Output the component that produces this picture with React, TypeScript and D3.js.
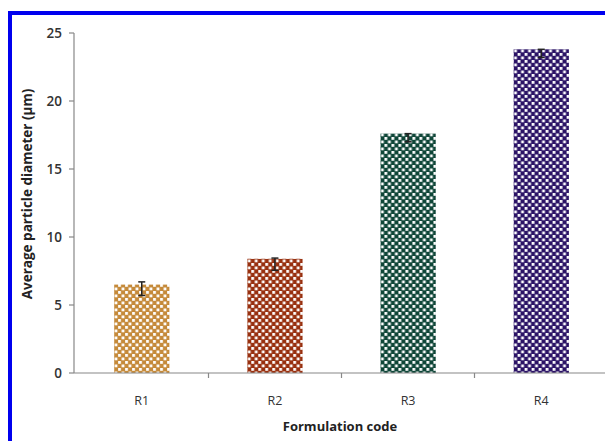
import React from "react";
import * as d3 from "d3";

const categories = ["R1", "R2", "R3", "R4"];
const values = [6.5, 8.4, 17.6, 23.8];
const errCenter = [6.2, 8.0, 17.3, 23.5];
const errSize = [0.5, 0.45, 0.3, 0.3];
const colors = ["#c58a3a", "#98300f", "#0f4638", "#2b1366"];
const yTicks = [0, 5, 10, 15, 20, 25];

const W = 605;
const H = 441;
const left = 74;
const right = 606;
const top = 33;
const bottom = 373;

export default function App() {
  const x = d3.scaleBand<string>().domain(categories).range([left + 1.5, right + 1.5]).paddingInner(0.585).paddingOuter(0.29);
  const band = d3.scaleBand<string>().domain(categories).range([left + 1.5, right + 1.5]);
  const y = d3.scaleLinear().domain([0, 25]).range([bottom, top]);
  const font = "'Open Sans', 'DejaVu Sans', sans-serif";
  const period = 7;
  const boundaries = categories.slice(1).map((c) => band(c)!);
  return (
    <svg width={W} height={H} style={{ position: "absolute", left: 0, top: 0, background: "#fff" }}>
      <defs>
        {colors.map((c, i) => (
          <pattern key={i} id={`pat${i}`} patternUnits="userSpaceOnUse" width={period} height={period} x={x(categories[i])} y={0}>
            <rect width={period} height={period} fill={c} />
            <rect x={0.5} y={0.5} width={2.8} height={2.8} fill="#fff" />
            <rect x={period / 2 + 0.5} y={period / 2 + 0.5} width={2.8} height={2.8} fill="#fff" />
          </pattern>
        ))}
      </defs>
      <rect x={0} y={0} width={W} height={H} fill="#fff" />
      {/* blue frame */}
      <rect x={8} y={11} width={W} height={4} fill="#0000ee" />
      <rect x={8} y={11} width={4} height={H} fill="#0000ee" />

      {/* bars */}
      {categories.map((c, i) => (
        <rect key={c} x={x(c)} y={y(values[i])} width={x.bandwidth()} height={bottom - y(values[i])} fill={`url(#pat${i})`} />
      ))}
      {/* error bars */}
      {categories.map((c, i) => {
        const cx = x(c)! + x.bandwidth() / 2;
        const y1 = y(errCenter[i] + errSize[i]);
        const y2 = y(errCenter[i] - errSize[i]);
        return (
          <g key={c} stroke="#222" strokeWidth={1.5}>
            <line x1={cx} x2={cx} y1={y1} y2={y2} />
            <line x1={cx - 3.5} x2={cx + 3.5} y1={y1} y2={y1} />
            <line x1={cx - 3.5} x2={cx + 3.5} y1={y2} y2={y2} />
          </g>
        );
      })}

      {/* y axis */}
      <line x1={left} x2={left} y1={top} y2={bottom} stroke="#888" strokeWidth={1.2} />
      {yTicks.map((t) => (
        <g key={t}>
          <line x1={left - 5} x2={left} y1={y(t)} y2={y(t)} stroke="#888" strokeWidth={1.2} />
          <text x={left - 12} y={y(t)} dy="0.35em" textAnchor="end" fontFamily={font} fontSize={13.5} fontWeight={600} fill="#333">
            {t}
          </text>
        </g>
      ))}
      {/* x axis */}
      <line x1={left} x2={right} y1={bottom} y2={bottom} stroke="#888" strokeWidth={1.2} />
      {boundaries.map((b, i) => (
        <line key={i} x1={b} x2={b} y1={bottom} y2={bottom + 5} stroke="#888" strokeWidth={1.2} />
      ))}
      {categories.map((c) => (
        <text key={c} x={x(c)! + x.bandwidth() / 2} y={405} textAnchor="middle" fontFamily={font} fontSize={12.5} fill="#333">
          {c}
        </text>
      ))}
      <text x={340} y={431} textAnchor="middle" fontFamily={font} fontSize={13} fontWeight="bold" fill="#222">
        Formulation code
      </text>
      <text transform="translate(32,194) rotate(-90)" textAnchor="middle" fontFamily={font} fontSize={13.5} fontWeight="bold" fill="#222">
        Average particle diameter (μm)
      </text>
    </svg>
  );
}
